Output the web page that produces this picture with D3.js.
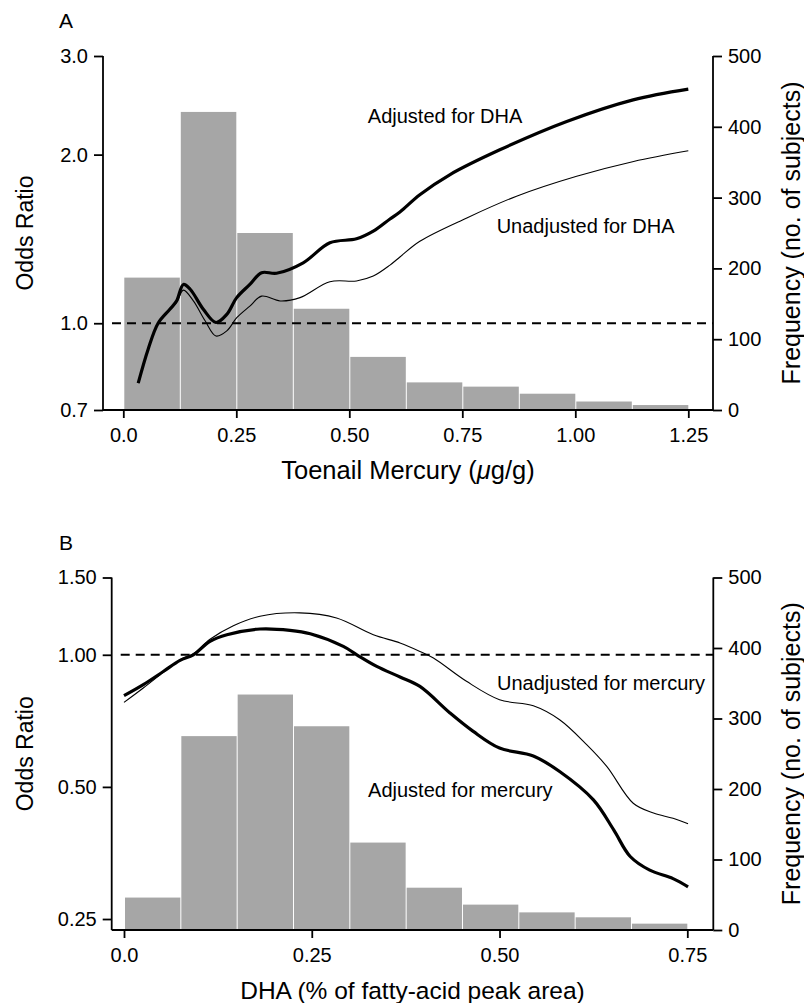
<!DOCTYPE html>
<html>
<head>
<meta charset="utf-8">
<script src="https://cdn.jsdelivr.net/npm/d3@7"></script>
<style>
  body { margin: 0; background: #fff; }
  svg { display: block; font-family: "Liberation Sans", Arial, sans-serif; }
</style>
</head>
<body>
<svg id="chart" width="804" height="1003"></svg>
<script>
// ---- data ----
var binsA = [0, 0.125, 0.25, 0.375, 0.5, 0.625, 0.75, 0.875, 1.0, 1.125, 1.25];
var freqA = [187, 421, 250, 143, 75, 39, 33, 23, 12, 7];

var binsB = [0, 0.075, 0.15, 0.225, 0.3, 0.375, 0.45, 0.525, 0.6, 0.675, 0.75];
var freqB = [46, 275, 334, 289, 124, 60, 36, 25, 18, 9];

// toenail mercury (ug/g), odds ratio
var adjDhaX = [0.033, 0.055, 0.077, 0.103, 0.118, 0.133, 0.148, 0.177, 0.205, 0.229, 0.251, 0.280, 0.306, 0.339, 0.398, 0.457, 0.516, 0.553, 0.590, 0.612, 0.656, 0.723, 0.833, 0.981, 1.128, 1.25];
var adjDhaY = [0.782, 0.899, 1.0, 1.059, 1.096, 1.173, 1.15, 1.059, 1.003, 1.037, 1.111, 1.173, 1.231, 1.228, 1.282, 1.392, 1.415, 1.46, 1.535, 1.58, 1.696, 1.843, 2.04, 2.292, 2.505, 2.618];

var unadjDhaX = [0.033, 0.055, 0.077, 0.103, 0.118, 0.133, 0.155, 0.181, 0.205, 0.229, 0.251, 0.280, 0.306, 0.347, 0.391, 0.457, 0.516, 0.553, 0.590, 0.612, 0.656, 0.760, 0.870, 1.003, 1.129, 1.25];
var unadjDhaY = [0.782, 0.899, 1.0, 1.059, 1.09, 1.146, 1.096, 1.01, 0.949, 0.969, 1.023, 1.073, 1.118, 1.096, 1.111, 1.186, 1.19, 1.214, 1.27, 1.313, 1.401, 1.542, 1.686, 1.83, 1.945, 2.032];

// DHA (% of fatty-acid peak area), odds ratio
var adjHgX = [0, 0.0257, 0.0523, 0.0746, 0.0923, 0.1145, 0.137, 0.181, 0.221, 0.248, 0.292, 0.31, 0.3365, 0.3675, 0.394, 0.434, 0.465, 0.5, 0.545, 0.58, 0.625, 0.652, 0.674, 0.70, 0.731, 0.751];
var adjHgY = [0.807, 0.855, 0.916, 0.971, 1.0, 1.073, 1.111, 1.145, 1.137, 1.117, 1.045, 1.0, 0.941, 0.89, 0.847, 0.737, 0.669, 0.613, 0.588, 0.542, 0.467, 0.399, 0.347, 0.323, 0.309, 0.296];

var unadjHgX = [0, 0.0257, 0.0523, 0.0746, 0.0923, 0.1145, 0.1456, 0.181, 0.234, 0.283, 0.332, 0.3675, 0.394, 0.412, 0.456, 0.5, 0.545, 0.58, 0.616, 0.643, 0.678, 0.705, 0.731, 0.751];
var unadjHgY = [0.779, 0.84, 0.912, 0.975, 1.006, 1.085, 1.165, 1.224, 1.246, 1.213, 1.111, 1.064, 1.018, 0.983, 0.87, 0.79, 0.765, 0.711, 0.624, 0.556, 0.459, 0.436, 0.424, 0.412];

var xTicksA = [0, 0.25, 0.5, 0.75, 1.0, 1.25];
var xTickLabelsA = ["0.0", "0.25", "0.50", "0.75", "1.00", "1.25"];
var yTicksA = [0.7, 1.0, 2.0, 3.0];
var yTickLabelsA = ["0.7", "1.0", "2.0", "3.0"];

var xTicksB = [0, 0.25, 0.5, 0.75];
var xTickLabelsB = ["0.0", "0.25", "0.50", "0.75"];
var yTicksB = [0.25, 0.5, 1.0, 1.5];
var yTickLabelsB = ["0.25", "0.50", "1.00", "1.50"];

var freqTicks = [0, 100, 200, 300, 400, 500];

var svg = d3.select("#chart");

function panel(o) {
  var g = svg.append("g");
  var x = d3.scaleLinear().domain(o.xDomain).range([o.x0, o.x1]);
  var y = d3.scaleLog().domain(o.yDomain).range([o.bottom, o.top]);
  var yf = d3.scaleLinear().domain([0, 500]).range([o.bottom, o.top]);

  // histogram
  g.selectAll("rect.bar")
    .data(o.freq)
    .enter()
    .append("rect")
    .attr("class", "bar")
    .attr("x", function(d, i) { return x(o.bins[i]) + 1; })
    .attr("width", function(d, i) { return x(o.bins[i + 1]) - x(o.bins[i]) - 1; })
    .attr("y", function(d) { return yf(d); })
    .attr("height", function(d) { return o.bottom - yf(d); })
    .attr("fill", "#a6a6a6");

  // reference line at OR = 1
  g.append("line")
    .attr("x1", o.left + 9).attr("x2", o.right)
    .attr("y1", y(1)).attr("y2", y(1))
    .attr("stroke", "#000")
    .attr("stroke-width", 2)
    .attr("stroke-dasharray", "9,6");

  var line = d3.line()
    .x(function(d) { return x(d[0]); })
    .y(function(d) { return y(d[1]); })
    .curve(d3.curveCatmullRom.alpha(0.5));

  g.append("path")
    .datum(d3.zip(o.thinX, o.thinY))
    .attr("d", line)
    .attr("fill", "none").attr("stroke", "#000").attr("stroke-width", 1.1);

  g.append("path")
    .datum(d3.zip(o.thickX, o.thickY))
    .attr("d", line)
    .attr("fill", "none").attr("stroke", "#000").attr("stroke-width", 3.2);

  // axes
  var yAxis = d3.axisLeft(y)
    .tickValues(o.yTicks)
    .tickFormat(function(d, i) { return o.yLabels[i]; })
    .tickSize(9).tickSizeOuter(0).tickPadding(6);
  var ga = g.append("g").attr("transform", "translate(" + o.left + ",0)").call(yAxis);
  ga.select(".domain").remove();
  ga.append("line").attr("x1", 0).attr("x2", 0).attr("y1", o.top).attr("y2", o.bottom);

  var rAxis = d3.axisRight(yf)
    .tickValues(freqTicks)
    .tickSize(9).tickSizeOuter(0).tickPadding(6);
  var gr = g.append("g").attr("transform", "translate(" + o.right + ",0)").call(rAxis);
  gr.select(".domain").remove();
  gr.append("line").attr("x1", 0).attr("x2", 0).attr("y1", o.top).attr("y2", o.bottom);

  var xAxis = d3.axisBottom(x)
    .tickValues(o.xTicks)
    .tickFormat(function(d, i) { return o.xLabels[i]; })
    .tickSize(8).tickSizeOuter(0).tickPadding(10);
  var gx = g.append("g").attr("transform", "translate(0," + o.bottom + ")").call(xAxis);
  gx.select(".domain").remove();
  gx.append("line").attr("x1", o.left).attr("x2", o.right).attr("y1", 0).attr("y2", 0);

  [ga, gr, gx].forEach(function(a) {
    a.selectAll("line").attr("stroke", "#000").attr("stroke-width", 1.8);
    a.selectAll("text").attr("font-size", 20).attr("fill", "#000")
      .attr("font-family", "Liberation Sans, Arial, sans-serif");
  });

  // titles
  g.append("text")
    .attr("x", 59).attr("y", o.top - 28)
    .attr("font-size", 21).text(o.letter);

  g.append("text")
    .attr("transform", "translate(33," + (o.top + o.bottom) / 2 + ") rotate(-90)")
    .attr("text-anchor", "middle").attr("font-size", 23).text("Odds Ratio");

  g.append("text")
    .attr("transform", "translate(800," + (o.top + o.bottom) / 2 + ") rotate(-90)")
    .attr("text-anchor", "middle").attr("font-size", 25)
    .text("Frequency (no. of subjects)");

  var t = g.append("text")
    .attr("x", (o.left + o.right) / 2).attr("y", o.bottom + 69)
    .attr("text-anchor", "middle").attr("font-size", o.xTitleSize);
  o.xTitle.forEach(function(p) {
    t.append("tspan").attr("font-style", p[1] ? "italic" : null).text(p[0]);
  });

  o.notes.forEach(function(n) {
    g.append("text")
      .attr("x", x(n[1])).attr("y", y(n[2]))
      .attr("font-size", 20).text(n[0]);
  });
}

panel({
  letter: "A",
  left: 103, right: 713, top: 56, bottom: 410,
  x0: 123.3, x1: 688.3, xDomain: [0, 1.25], yDomain: [0.7, 3.0],
  bins: binsA, freq: freqA,
  thickX: adjDhaX, thickY: adjDhaY, thinX: unadjDhaX, thinY: unadjDhaY,
  xTicks: xTicksA, xLabels: xTickLabelsA, yTicks: yTicksA, yLabels: yTickLabelsA,
  xTitle: [["Toenail Mercury (", false], ["\u03bc", true], ["g/g)", false]], xTitleSize: 25.5,
  notes: [["Adjusted for DHA", 0.541, 2.28], ["Unadjusted for DHA", 0.826, 1.452]]
});

panel({
  letter: "B",
  left: 111.7, right: 713.3, top: 577.5, bottom: 930,
  x0: 124, x1: 687.3, xDomain: [0, 0.75], yDomain: [0.236, 1.5],
  bins: binsB, freq: freqB,
  thickX: adjHgX, thickY: adjHgY, thinX: unadjHgX, thinY: unadjHgY,
  xTicks: xTicksB, xLabels: xTickLabelsB, yTicks: yTicksB, yLabels: yTickLabelsB,
  xTitle: [["DHA (% of fatty-acid peak area)", false]], xTitleSize: 24.5,
  notes: [["Unadjusted for mercury", 0.4967, 0.832], ["Adjusted for mercury", 0.325, 0.474]]
});
</script>
</body>
</html>
